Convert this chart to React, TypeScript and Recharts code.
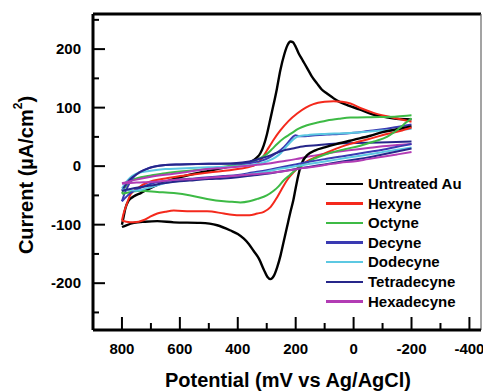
import React from 'react';
import { LineChart, Line, XAxis, YAxis, ReferenceLine, Legend, Label } from 'recharts';

type Pt = [number, number];

// Potential (mV) vs current (µA/cm²), forward branch (800 -> -200) and reverse branch (-200 -> 800)
const untreatedAuFwd: Pt[] = [
  [800, -100], [795, -88], [788, -72], [777, -59], [760, -52], [735, -46], [700, -37], [650, -27],
  [600, -19], [550, -13], [500, -8], [450, -3], [415, 1], [380, 4], [356, 7], [335, 14], [322, 22],
  [310, 36], [299, 55], [290, 75], [281, 95], [265, 132], [253, 164], [240, 190], [228, 207],
  [218, 213], [210, 212], [202, 206], [190, 193], [175, 180], [161, 168], [145, 154], [126, 141],
  [110, 131], [92, 124], [75, 118], [57, 112], [20, 104], [-20, 97], [-68, 88], [-110, 84],
  [-147, 81], [-200, 80],
];
const untreatedAuRev: Pt[] = [
  [-200, 68], [-150, 63], [-100, 58], [-58, 52], [0, 45], [57, 38], [100, 32], [132, 27], [160, 19],
  [175, 9], [184, -2], [192, -18], [201, -40], [208, -58], [218, -78], [230, -104], [241, -128],
  [252, -152], [264, -173], [275, -187], [287, -193], [298, -189], [310, -177], [327, -158],
  [345, -145], [362, -133], [379, -124], [400, -116], [425, -110], [471, -101], [529, -97],
  [621, -96], [678, -94], [720, -95], [759, -97], [785, -101], [800, -104],
];

const hexyneFwd: Pt[] = [
  [800, -93], [795, -82], [787, -70], [770, -48], [741, -36], [712, -28], [650, -21], [600, -17],
  [500, -11], [400, -5], [350, 0], [333, 4], [315, 14], [299, 27], [275, 46], [253, 61], [225, 77],
  [195, 90], [165, 100], [139, 106], [100, 110], [69, 111], [40, 110], [11, 107], [-30, 98],
  [-69, 91], [-127, 84], [-200, 76],
];
const hexyneRev: Pt[] = [
  [-200, 66], [-160, 60], [-115, 55], [-50, 46], [11, 38], [60, 30], [103, 21], [150, 11], [184, 1],
  [210, -12], [230, -24], [248, -39], [264, -53], [287, -70], [310, -78], [333, -81], [360, -84],
  [391, -84], [420, -83], [448, -81], [506, -77], [563, -77], [621, -76], [650, -78], [678, -81],
  [705, -87], [724, -92], [759, -96], [785, -95], [800, -93],
];

const octyneFwd: Pt[] = [
  [800, -47], [792, -38], [780, -30], [765, -24], [735, -19], [700, -16], [650, -12], [550, -7],
  [450, -1], [400, 2], [356, 7], [325, 13], [299, 21], [280, 30], [264, 38], [240, 48], [218, 55],
  [190, 64], [161, 70], [120, 75], [92, 78], [50, 81], [11, 83], [-92, 84], [-150, 85], [-200, 87],
];
const octyneRev: Pt[] = [
  [-200, 82], [-180, 74], [-161, 66], [-140, 58], [-115, 50], [-70, 42], [-23, 35], [30, 29],
  [80, 23], [120, 16], [149, 10], [175, 2], [201, -7], [220, -15], [241, -24], [260, -35],
  [276, -42], [300, -50], [333, -56], [360, -60], [391, -62], [420, -61], [448, -60], [506, -56],
  [563, -50], [621, -46], [678, -44], [735, -42], [769, -44], [800, -47],
];

const decyneFwd: Pt[] = [
  [800, -60], [792, -48], [780, -35], [765, -22], [750, -14], [720, -6], [700, -2], [650, 2],
  [600, 3], [500, 4], [420, 4], [350, 6], [320, 9], [290, 15], [265, 23], [240, 33], [222, 43],
  [210, 50], [201, 53], [190, 51], [175, 51], [150, 52], [92, 54], [50, 55], [0, 57], [-50, 60],
  [-100, 63], [-150, 67], [-200, 71],
];
const decyneRev: Pt[] = [
  [-200, 38], [-150, 33], [-100, 28], [-50, 24], [0, 20], [50, 16], [100, 12], [150, 8], [200, 3],
  [250, -2], [300, -7], [350, -11], [400, -15], [450, -17], [500, -19], [550, -21], [600, -23],
  [650, -26], [700, -30], [740, -38], [770, -46], [800, -60],
];

const dodecyneFwd: Pt[] = [
  [800, -38], [790, -30], [780, -24], [765, -17], [750, -13], [700, -8], [650, -5], [600, -4],
  [500, -2], [400, 0], [330, 4], [300, 8], [270, 15], [250, 23], [235, 32], [220, 40], [205, 47],
  [190, 51], [160, 53], [100, 55], [50, 56], [0, 57], [-50, 59], [-100, 61], [-150, 62], [-200, 64],
];
const dodecyneRev: Pt[] = [
  [-200, 32], [-150, 28], [-100, 24], [-50, 20], [0, 16], [50, 12], [100, 8], [150, 4], [200, 0],
  [250, -4], [300, -9], [350, -13], [400, -17], [450, -19], [500, -21], [550, -23], [600, -25],
  [650, -29], [700, -36], [730, -40], [750, -42], [775, -41], [800, -40],
];

const tetradecyneFwd: Pt[] = [
  [800, -42], [790, -34], [775, -24], [750, -14], [720, -6], [690, -1], [650, 2], [600, 3],
  [500, 4], [414, 5], [360, 8], [322, 13], [290, 18], [265, 23], [241, 27], [210, 30], [184, 33],
  [120, 36], [46, 39], [-50, 40], [-120, 41], [-200, 42],
];
const tetradecyneRev: Pt[] = [
  [-200, 30], [-150, 25], [-100, 20], [-50, 15], [0, 11], [50, 7], [100, 3], [150, -1], [200, -5],
  [250, -9], [300, -13], [350, -16], [400, -19], [450, -21], [500, -22], [550, -24], [600, -26],
  [650, -29], [700, -33], [750, -37], [800, -42],
];

const hexadecyneFwd: Pt[] = [
  [800, -29], [750, -23], [700, -18], [621, -13], [550, -8], [506, -5], [450, -3], [400, -1],
  [356, 1], [300, 4], [250, 8], [200, 12], [150, 17], [100, 21], [50, 25], [0, 28], [-50, 31],
  [-100, 34], [-150, 36], [-200, 38],
];
const hexadecyneRev: Pt[] = [
  [-200, 24], [-150, 20], [-100, 16], [-50, 12], [0, 8], [46, 6], [100, 2], [150, -2], [184, -4],
  [220, -7], [264, -10], [300, -12], [350, -14], [400, -16], [450, -18], [500, -20], [550, -22],
  [600, -23], [650, -25], [700, -27], [750, -28], [800, -30],
];

const seriesNames = ['Untreated Au', 'Hexyne', 'Octyne', 'Decyne', 'Dodecyne', 'Tetradecyne', 'Hexadecyne'];
const seriesColors = ['#000000', '#f4291c', '#3dba45', '#3a3ab2', '#5cc8e2', '#26268a', '#b23cb4'];
const seriesFwd = [untreatedAuFwd, hexyneFwd, octyneFwd, decyneFwd, dodecyneFwd, tetradecyneFwd, hexadecyneFwd];
const seriesRev = [untreatedAuRev, hexyneRev, octyneRev, decyneRev, dodecyneRev, tetradecyneRev, hexadecyneRev];

const xTicks = [800, 700, 600, 500, 400, 300, 200, 100, 0, -100, -200, -300, -400];
const yTicks = [250, 200, 150, 100, 50, 0, -50, -100, -150, -200, -250];
const xDomain: [number, number] = [-440, 900];
const yDomain: [number, number] = [-280, 260];

const FONT = '"Liberation Sans", Arial, Helvetica, sans-serif';

const toRows = (pts: Pt[]) => pts.map(([x, y]) => ({ x, y }));

const renderXTick = (props: any) => {
  const { x, y, payload } = props;
  const v = payload.value as number;
  const major = v % 200 === 0;
  return (
    <g>
      <line x1={x} x2={x} y1={y} y2={y - (major ? 13 : 7)} stroke="#000" strokeWidth={2} />
      {major && (
        <text x={x} y={y + 24} textAnchor="middle" fontSize={15} fontWeight="bold" fill="#000" fontFamily={FONT}>
          {v}
        </text>
      )}
    </g>
  );
};

const renderYTick = (props: any) => {
  const { x, y, payload } = props;
  const v = payload.value as number;
  const major = v % 100 === 0;
  return (
    <g>
      <line x1={x} x2={x + (major ? 12 : 6)} y1={y} y2={y} stroke="#000" strokeWidth={2} />
      {major && (
        <text x={x - 12} y={y + 5} textAnchor="end" fontSize={15} fontWeight="bold" fill="#000" fontFamily={FONT}>
          {v}
        </text>
      )}
    </g>
  );
};

const renderLegend = () => (
  <div style={{ fontFamily: FONT }}>
    {seriesNames.map((name, i) => (
      <div key={name} style={{ display: 'flex', alignItems: 'center', height: 19.6 }}>
        <div style={{ width: 37, height: 2.5, background: seriesColors[i], marginRight: 5 }} />
        <span style={{ fontSize: 15, fontWeight: 'bold', color: '#000', lineHeight: '19.6px' }}>{name}</span>
      </div>
    ))}
  </div>
);

export default function App() {
  return (
    <div style={{ position: 'absolute', left: 0, top: 0, width: 483, height: 392, background: '#fff' }}>
      <LineChart width={483} height={392} margin={{ top: 14, right: 2, bottom: 0, left: 0 }}>
        <XAxis
          type="number"
          dataKey="x"
          domain={xDomain}
          reversed
          allowDataOverflow
          ticks={xTicks}
          interval={0}
          tickSize={0}
          tickMargin={0}
          tickLine={false}
          tick={renderXTick}
          axisLine={{ stroke: '#000', strokeWidth: 3 }}
          height={62}
        >
          <Label
            content={() => (
              <text x={288} y={387} textAnchor="middle" fontSize={20} fontWeight="bold" fill="#000" fontFamily={FONT}>
                Potential (mV vs Ag/AgCl)
              </text>
            )}
          />
        </XAxis>
        <YAxis
          type="number"
          dataKey="y"
          domain={yDomain}
          allowDataOverflow
          ticks={yTicks}
          interval={0}
          tickSize={0}
          tickMargin={0}
          tickLine={false}
          tick={renderYTick}
          axisLine={{ stroke: '#000', strokeWidth: 3 }}
          width={93}
        >
          <Label
            content={() => (
              <text
                x={26}
                y={175}
                transform="rotate(-90 26 175)"
                textAnchor="middle"
                dominantBaseline="central"
                fontSize={20}
                fontWeight="bold"
                fill="#000"
                fontFamily={FONT}
              >
                Current (µA/cm<tspan fontSize={12} dy={-8}>2</tspan>
                <tspan dy={8}>)</tspan>
              </text>
            )}
          />
        </YAxis>
        <ReferenceLine y={260} stroke="#000" strokeWidth={3} ifOverflow="visible" />
        <ReferenceLine x={-440} stroke="#666" strokeWidth={1.2} ifOverflow="visible" />
        {seriesNames.map((name, i) => (
          <Line
            key={name + '-fwd'}
            name={name}
            data={toRows(seriesFwd[i])}
            dataKey="y"
            type="monotone"
            stroke={seriesColors[i]}
            strokeWidth={i === 0 ? 2.4 : 2}
            dot={false}
            activeDot={false}
            isAnimationActive={false}
          />
        ))}
        {seriesNames.map((name, i) => (
          <Line
            key={name + '-rev'}
            name={name + ' (reverse)'}
            data={toRows(seriesRev[i])}
            dataKey="y"
            type="monotone"
            stroke={seriesColors[i]}
            strokeWidth={i === 0 ? 2.4 : 2}
            dot={false}
            activeDot={false}
            legendType="none"
            isAnimationActive={false}
          />
        ))}
        <Legend
          layout="vertical"
          align="center"
          verticalAlign="middle"
          wrapperStyle={{ left: 326, top: 174, width: 160, height: 140 }}
          content={renderLegend}
        />
      </LineChart>
    </div>
  );
}
